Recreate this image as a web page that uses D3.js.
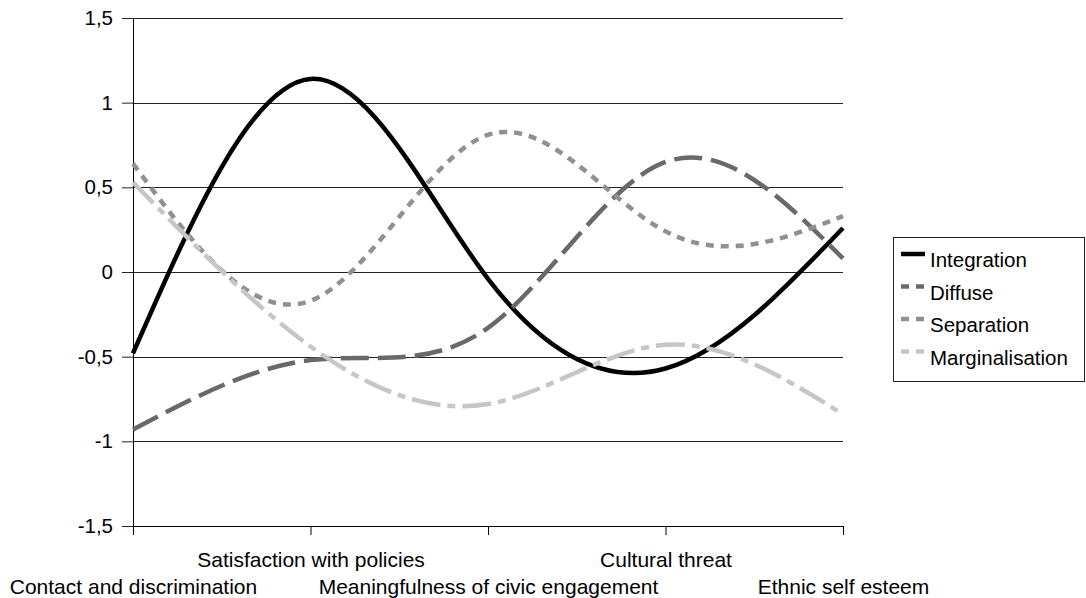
<!DOCTYPE html>
<html>
<head>
<meta charset="utf-8">
<script src="https://cdn.jsdelivr.net/npm/d3@7"></script>
<style>
  body { margin: 0; background: #fff; }
  text { font-family: "Liberation Sans", Arial, sans-serif; fill: #000; }
</style>
</head>
<body>
<div id="chart"></div>
<script>
const width = 1086;
const height = 598;

// data
const categories = [
  'Contact and discrimination',
  'Satisfaction with policies',
  'Meaningfulness of civic engagement',
  'Cultural threat',
  'Ethnic self esteem'
];
const series_names = ['Integration', 'Diffuse', 'Separation', 'Marginalisation'];
const integration = [-0.48, 1.14, -0.04, -0.57, 0.26];
const diffuse = [-0.93, -0.52, -0.33, 0.65, 0.08];
const separation = [0.64, -0.17, 0.81, 0.24, 0.33];
const marginalisation = [0.53, -0.44, -0.78, -0.43, -0.84];
const y_ticks = [-1.5, -1, -0.5, 0, 0.5, 1, 1.5];

const styles = {
  Integration: { color: '#000000', dash: null },
  Diffuse: { color: '#68696c', dash: '28,9' },
  Separation: { color: '#8e9096', dash: '8,7' },
  Marginalisation: { color: '#c6c6c6', dash: '29,7,8,7' }
};

const series = [integration, diffuse, separation, marginalisation]
  .map((values, i) => ({ name: series_names[i], values: values }));

const plot = { left: 133, right: 843, top: 18, bottom: 526 };

const x_scale = d3.scalePoint()
  .domain(categories)
  .range([plot.left, plot.right]);
const y_scale = d3.scaleLinear()
  .domain([-1.5, 1.5])
  .range([plot.bottom, plot.top]);

const svg = d3.select('#chart')
  .append('svg')
    .attr('width', width)
    .attr('height', height);

// gridlines + y axis
const y_axis = svg.append('g')
    .attr('transform', `translate(${plot.left},0)`)
    .call(d3.axisLeft(y_scale)
      .tickValues(y_ticks)
      .tickSize(11)
      .tickFormat(d => String(d).replace('.', ',')));
y_axis.select('.domain').remove();
y_axis.selectAll('.tick line').attr('stroke', '#222');
y_axis.selectAll('.tick text')
    .attr('x', -20)
    .attr('font-size', 20.5)
    .attr('font-family', '"Liberation Sans", Arial, sans-serif');

svg.append('g')
  .selectAll('line')
  .data(y_ticks)
  .join('line')
    .attr('x1', plot.left)
    .attr('x2', plot.right)
    .attr('y1', d => Math.round(y_scale(d)) + 0.5)
    .attr('y2', d => Math.round(y_scale(d)) + 0.5)
    .attr('stroke', '#222')
    .attr('stroke-width', 1);

// x axis
const x_axis = svg.append('g')
    .attr('transform', `translate(0,${plot.bottom})`)
    .call(d3.axisBottom(x_scale).tickSize(9).tickSizeOuter(0));
x_axis.select('.domain').attr('stroke', '#000');
x_axis.selectAll('.tick line').attr('stroke', '#000');
x_axis.selectAll('.tick text')
    .attr('font-size', 21)
    .attr('font-family', '"Liberation Sans", Arial, sans-serif')
    .attr('dy', null)
    .attr('y', (d, i) => i % 2 === 1 ? 41 : 68);

svg.append('line')
    .attr('x1', plot.left + 0.5)
    .attr('x2', plot.left + 0.5)
    .attr('y1', plot.top)
    .attr('y2', plot.bottom + 9)
    .attr('stroke', '#000');

// smoothed lines (natural cubic spline, like the spreadsheet's smoothing)
const line = d3.line()
  .x((d, i) => x_scale(categories[i]))
  .y(d => y_scale(d))
  .curve(d3.curveNatural);

svg.append('g')
  .selectAll('path')
  .data(series)
  .join('path')
    .attr('d', d => line(d.values))
    .attr('fill', 'none')
    .attr('stroke', d => styles[d.name].color)
    .attr('stroke-width', 4.5)
    .attr('stroke-dasharray', d => styles[d.name].dash);

// legend
const legend = svg.append('g')
    .attr('transform', 'translate(893,237)');
legend.append('rect')
    .attr('x', 0.5)
    .attr('y', 0.5)
    .attr('width', 191)
    .attr('height', 144)
    .attr('fill', '#fff')
    .attr('stroke', '#222');
const items = legend.selectAll('.item')
  .data(series_names)
  .join('g')
    .attr('class', 'item')
    .attr('transform', (d, i) => `translate(0,${17 + i * 32.5})`);
items.append('line')
    .attr('x1', 8)
    .attr('x2', 32)
    .attr('y1', 0)
    .attr('y2', 0)
    .attr('stroke', d => styles[d].color)
    .attr('stroke-width', 4.5)
    .attr('stroke-dasharray', d => styles[d].dash ? '8,7' : null);
items.append('text')
    .attr('x', 37)
    .attr('y', 13)
    .attr('font-size', 20.5)
    .text(d => d);
</script>
</body>
</html>
